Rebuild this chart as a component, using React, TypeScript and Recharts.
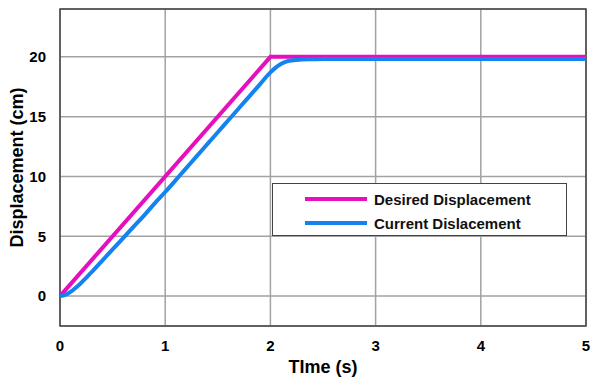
import React from "react";
import {
  LineChart,
  Line,
  XAxis,
  YAxis,
  CartesianGrid,
  ReferenceArea,
  Label,
} from "recharts";

// reference trajectory (ramp to 20 cm in 2 s, then hold)
const desiredTime = [0, 2, 5];
const desiredValue = [0, 20, 20];

// measured response, lags slightly behind the ramp
const currentTime = [
  0, 0.05, 0.1, 0.15, 0.2, 0.3, 0.4, 0.5, 0.6, 0.7, 0.8, 0.9, 1.0, 1.1, 1.2,
  1.3, 1.4, 1.5, 1.6, 1.7, 1.8, 1.9, 2.0, 2.05, 2.1, 2.15, 2.2, 2.3, 2.4, 2.5,
  3, 4, 5,
];
const currentValue = [
  0, 0.1, 0.35, 0.7, 1.1, 2.0, 2.95, 3.9, 4.85, 5.8, 6.75, 7.75, 8.7, 9.7,
  10.7, 11.7, 12.7, 13.7, 14.7, 15.7, 16.7, 17.7, 18.7, 19.1, 19.4, 19.6, 19.7,
  19.78, 19.8, 19.82, 19.83, 19.83, 19.83,
];

const xTicks = [0, 1, 2, 3, 4, 5];
const yTicks = [0, 5, 10, 15, 20];

const MAGENTA = "#E60FBE";
const BLUE = "#1283F0";
const FONT = "'Liberation Sans', Arial, sans-serif";

const desiredData = desiredTime.map((t, i) => ({ t, v: desiredValue[i] }));
const currentData = currentTime.map((t, i) => ({ t, v: currentValue[i] }));

const legendItems = [
  { label: "Desired Displacement", color: MAGENTA },
  { label: "Current Dislacement", color: BLUE },
];

// MATLAB-style boxed legend, laid over the plot
function LegendBox() {
  return (
    <div
      style={{
        position: "absolute",
        left: 272,
        top: 183,
        width: 295,
        height: 53,
        border: "1.5px solid #444",
        background: "#fff",
        boxSizing: "border-box",
        paddingTop: 3,
      }}
    >
      {legendItems.map((item) => (
        <div
          key={item.label}
          style={{ display: "flex", alignItems: "center", height: 24 }}
        >
          <div
            style={{
              marginLeft: 32,
              width: 62,
              height: 4,
              background: item.color,
            }}
          />
          <span
            style={{
              marginLeft: 7,
              fontFamily: FONT,
              fontWeight: 700,
              fontSize: 15,
              color: "#111",
            }}
          >
            {item.label}
          </span>
        </div>
      ))}
    </div>
  );
}

const tickStyle = {
  fontFamily: FONT,
  fontWeight: 700,
  fontSize: 15,
  fill: "#000",
};

const titleStyle = {
  fontFamily: FONT,
  fontWeight: 700,
  fontSize: 18,
  fill: "#000",
};

export default function App() {
  return (
    <div
      style={{
        position: "absolute",
        left: 0,
        top: 0,
        width: 603,
        height: 380,
        background: "#fff",
      }}
    >
      <LineChart
        width={603}
        height={380}
        margin={{ top: 9, right: 17, bottom: 0, left: 0 }}
      >
        <CartesianGrid stroke="#a2a2a2" strokeWidth={1.5} />
        <XAxis
          dataKey="t"
          type="number"
          domain={[0, 5]}
          ticks={xTicks}
          height={54}
          axisLine={false}
          tickLine={false}
          tick={tickStyle}
          tickMargin={8}
          allowDataOverflow
        >
          <Label
            value="TIme (s)"
            position="insideBottom"
            offset={7}
            style={titleStyle}
          />
        </XAxis>
        <YAxis
          dataKey="v"
          type="number"
          domain={[-2.5, 24]}
          ticks={yTicks}
          width={60}
          axisLine={false}
          tickLine={false}
          tick={tickStyle}
          tickMargin={8}
          allowDataOverflow
        >
          <Label
            value="Displacement (cm)"
            angle={-90}
            position="insideLeft"
            offset={17}
            style={{ ...titleStyle, textAnchor: "middle" }}
          />
        </YAxis>
        <ReferenceArea
          x1={0}
          x2={5}
          y1={-2.5}
          y2={24}
          fill="none"
          stroke="#444"
          strokeWidth={1.5}
        />
        <Line
          data={desiredData}
          dataKey="v"
          type="linear"
          stroke={MAGENTA}
          strokeWidth={4}
          dot={false}
          isAnimationActive={false}
        />
        <Line
          data={currentData}
          dataKey="v"
          type="monotone"
          stroke={BLUE}
          strokeWidth={4}
          dot={false}
          isAnimationActive={false}
        />
      </LineChart>
      <LegendBox />
    </div>
  );
}
